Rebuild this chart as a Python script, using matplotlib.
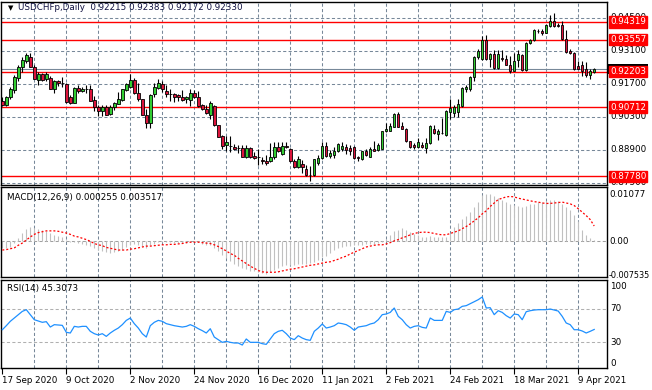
import numpy as np
import matplotlib.pyplot as plt
import matplotlib.transforms as mtransforms
from matplotlib.patches import Rectangle

# USDCHFp daily candles, 17 Sep 2020 .. Apr 2021
opens = [
    .9098, .9081, .9112, .9143, .9194, .9240, .9268, .9282, .9240, .9186,
    .9211, .9189, .9194, .9149, .9183, .9174, .9169, .9115, .9090, .9152,
    .9138, .9149, .9146, .9101, .9073, .9053, .9073, .9042, .9070, .9084,
    .9101, .9143, .9155, .9186, .9132, .9104, .9039, .9002, .9126, .9152,
    .9169, .9140, .9126, .9126, .9121, .9112, .9107, .9101, .9129, .9112,
    .9079, .9064, .9039, .9076, .8994, .8948, .8912, .8906, .8903, .8898,
    .8898, .8861, .8898, .8864, .8861, .8847, .8844, .8844, .8858, .8900,
    .8872, .8906, .8895, .8844, .8816, .8830, .8810, .8784, .8782, .8835,
    .8855, .8906, .8864, .8869, .8884, .8892, .8903, .8898, .8900, .8861,
    .8850, .8884, .8861, .8892, .8889, .8895, .8968, .8971, .8988, .9042,
    .8991, .8979, .8926, .8909, .8900, .8912, .8898, .8917, .8979, .8957,
    .8960, .8954, .9050, .9047, .9050, .9076, .9146, .9146, .9197, .9282,
    .9274, .9355, .9274, .9296, .9237, .9279, .9274, .9248, .9225, .9271,
    .9293, .9228, .9341, .9355, .9395, .9392, .9386, .9415, .9435, .9420,
    .9420, .9361, .9310, .9302, .9245, .9251, .9234, .9206, .92215]
highs = [
    .9112, .9118, .9155, .9206, .9249, .9282, .9299, .9302, .9251, .9220,
    .9217, .9220, .9203, .9186, .9186, .9197, .9172, .9123, .9157, .9163,
    .9157, .9163, .9166, .9118, .9081, .9079, .9081, .9079, .9093, .9135,
    .9149, .9174, .9211, .9194, .9172, .9107, .9064, .9126, .9174, .9191,
    .9180, .9163, .9149, .9132, .9126, .9143, .9118, .9146, .9143, .9140,
    .9084, .9079, .9098, .9079, .8997, .8951, .8948, .8948, .8914, .8912,
    .8909, .8909, .8903, .8881, .8895, .8858, .8869, .8920, .8923, .8923,
    .8923, .8923, .8898, .8852, .8864, .8847, .8824, .8821, .8852, .8867,
    .8923, .8923, .8889, .8900, .8920, .8923, .8914, .8912, .8906, .8864,
    .8886, .8892, .8900, .8928, .8917, .8971, .9002, .9005, .9045, .9050,
    .9008, .8982, .8928, .8920, .8940, .8923, .8940, .8994, .8996, .8979,
    .9025, .9059, .9104, .9079, .9104, .9155, .9163, .9203, .9288, .9319,
    .9372, .9375, .9299, .9313, .9313, .9313, .9291, .9288, .9302, .9313,
    .9296, .9347, .9358, .9401, .9403, .9401, .9423, .9463, .9469, .9429,
    .9437, .9398, .9316, .9305, .9265, .9265, .9262, .9234, .92383]
lows = [
    .9076, .9076, .9107, .9129, .9183, .9220, .9257, .9240, .9189, .9163,
    .9180, .9183, .9146, .9132, .9160, .9157, .9090, .9084, .9087, .9132,
    .9135, .9132, .9095, .9056, .9033, .9033, .9036, .9039, .9059, .9084,
    .9098, .9140, .9152, .9126, .9098, .9036, .8984, .8984, .9115, .9149,
    .9135, .9112, .9095, .9093, .9098, .9095, .9090, .9076, .9109, .9073,
    .9059, .9042, .9022, .8991, .8942, .8892, .8884, .8881, .8889, .8878,
    .8858, .8855, .8855, .8852, .8827, .8830, .8827, .8838, .8852, .8881,
    .8869, .8898, .8838, .8813, .8813, .8793, .8779, .8759, .8779, .8824,
    .8852, .8861, .8855, .8855, .8881, .8886, .8872, .8867, .8852, .8841,
    .8847, .8864, .8858, .8884, .8884, .8892, .8965, .8968, .8985, .8985,
    .8977, .8923, .8898, .8892, .8898, .8898, .8878, .8914, .8957, .8931,
    .8957, .8948, .9022, .9028, .9028, .9073, .9135, .9140, .9183, .9274,
    .9271, .9271, .9240, .9234, .9234, .9268, .9248, .9214, .9223, .9242,
    .9225, .9225, .9338, .9350, .9384, .9378, .9384, .9412, .9412, .9409,
    .9355, .9302, .9296, .9228, .9231, .9203, .9200, .9189, .92172]
closes = [
    .9081, .9112, .9146, .9197, .9242, .9271, .9293, .9242, .9191, .9211,
    .9186, .9211, .9149, .9180, .9172, .9173, .9093, .9087, .9152, .9140,
    .9149, .9148, .9098, .9073, .9056, .9070, .9039, .9073, .9087, .9107,
    .9146, .9169, .9186, .9129, .9107, .9039, .9002, .9123, .9155, .9174,
    .9146, .9126, .9125, .9112, .9115, .9101, .9112, .9129, .9112, .9076,
    .9064, .9047, .9087, .8994, .8945, .8906, .8923, .8905, .8892, .8896,
    .8861, .8898, .8861, .8855, .8858, .8841, .8833, .8861, .8903, .8884,
    .8906, .8900, .8841, .8816, .8850, .8816, .8784, .8782, .8850, .8855,
    .8906, .8864, .8878, .8884, .8914, .8906, .8889, .8884, .8855, .8855,
    .8884, .8867, .8892, .8886, .8909, .8968, .8977, .8991, .9042, .8988,
    .8979, .8926, .8900, .8903, .8923, .8900, .8920, .8991, .8960, .8971,
    .8959, .9056, .9067, .9070, .9084, .9152, .9155, .9197, .9285, .9310,
    .9355, .9274, .9296, .9237, .9296, .9274, .9251, .9223, .9268, .9296,
    .9228, .9344, .9355, .9398, .9392, .9386, .9420, .9435, .9415, .9415,
    .9358, .9305, .9299, .9234, .9234, .9223, .9206, .9225, .92330]

# MACD(12,26,9): main line (histogram) and signal
macd_main = [
    -0.0015, -0.0016, -0.0013, -0.0004, 0.0008, 0.0018, 0.0028, 0.0032, 0.0031, 0.0029,
    0.0027, 0.0023, 0.0019, 0.0015, 0.0013, 0.0010, 0.0004, -0.0001, -0.0002, -0.0004,
    -0.0005, -0.0008, -0.0011, -0.0015, -0.0019, -0.0022, -0.0024, -0.0027, -0.0025, -0.0023,
    -0.0019, -0.0014, -0.0008, -0.0007, -0.0008, -0.0011, -0.0015, -0.0009, -0.0005, -0.0002,
    -0.0002, -0.0002, -0.0002, -0.0003, -0.0003, -0.0004, -0.0003, -0.0001, -0.0001, -0.0002,
    -0.0005, -0.0008, -0.0008, -0.0015, -0.0023, -0.0031, -0.0038, -0.0046, -0.0052, -0.0057,
    -0.0062, -0.0063, -0.0067, -0.0069, -0.0071, -0.0073, -0.0075, -0.0071, -0.0065, -0.0062,
    -0.0057, -0.0054, -0.0054, -0.0054, -0.0053, -0.0051, -0.0051, -0.0050, -0.0047, -0.0042,
    -0.0036, -0.0033, -0.0027, -0.0021, -0.0016, -0.0013, -0.0011, -0.0010, -0.0009, -0.0008,
    -0.0008, -0.0007, -0.0006, -0.0005, -0.0004, -0.0002, 0.0005, 0.0015, 0.0023, 0.0027,
    0.0030, 0.0027, 0.0021, 0.0017, 0.0014, 0.0010, 0.0009, 0.0013, 0.0011, 0.0011,
    0.0009, 0.0011, 0.0019, 0.0034, 0.0041, 0.0051, 0.0057, 0.0067, 0.0079, 0.0091,
    0.0107, 0.0108, 0.0108, 0.0103, 0.0099, 0.0096, 0.0091, 0.0085, 0.0083, 0.0082,
    0.0079, 0.0080, 0.0085, 0.0086, 0.0090, 0.0091, 0.0092, 0.0094, 0.0094, 0.0092,
    0.0086, 0.0079, 0.0071, 0.0060, 0.0046, 0.0027, 0.0015, 0.0007, 0.000255]
macd_signal = [
    -0.0020, -0.0019, -0.0017, -0.0015, -0.0009, -0.0004, 0.0003, 0.0010, 0.0016, 0.0020,
    0.0022, 0.0024, 0.0024, 0.0024, 0.0023, 0.0021, 0.0019, 0.0016, 0.0012, 0.0010,
    0.0007, 0.0004, 0.0000, -0.0005, -0.0008, -0.0010, -0.0014, -0.0016, -0.0018, -0.0020,
    -0.0020, -0.0020, -0.0018, -0.0017, -0.0015, -0.0013, -0.0011, -0.0011, -0.0010, -0.0009,
    -0.0008, -0.0008, -0.0007, -0.0007, -0.0006, -0.0005, -0.0003, -0.0002, -0.0002, -0.0002,
    -0.0003, -0.0004, -0.0005, -0.0008, -0.0012, -0.0017, -0.0022, -0.0028, -0.0032, -0.0039,
    -0.0045, -0.0051, -0.0057, -0.0062, -0.0067, -0.0070, -0.0071, -0.0071, -0.0071, -0.0070,
    -0.0068, -0.0066, -0.0064, -0.0063, -0.0061, -0.0059, -0.0057, -0.0055, -0.0054, -0.0052,
    -0.0050, -0.0048, -0.0047, -0.0044, -0.0041, -0.0037, -0.0034, -0.0029, -0.0025, -0.0021,
    -0.0017, -0.0013, -0.0011, -0.0009, -0.0008, -0.0008, -0.0006, -0.0003, 0.0001, 0.0004,
    0.0008, 0.0011, 0.0015, 0.0018, 0.0020, 0.0021, 0.0021, 0.0020, 0.0018, 0.0016,
    0.0015, 0.0015, 0.0018, 0.0021, 0.0024, 0.0029, 0.0034, 0.0040, 0.0047, 0.0054,
    0.0063, 0.0070, 0.0080, 0.0088, 0.0096, 0.0099, 0.0102, 0.0103, 0.0102, 0.0099,
    0.0097, 0.0095, 0.0093, 0.0091, 0.0090, 0.0088, 0.0087, 0.0087, 0.0088, 0.0089,
    0.0090, 0.0088, 0.0086, 0.0082, 0.0075, 0.0067, 0.0059, 0.0050, 0.003517]

# RSI(14)
rsi = [
    45.0, 49.8, 55.0, 58.9, 62.9, 66.8, 68.8, 62.9, 56.9, 55.3,
    53.8, 54.6, 48.2, 51.0, 50.6, 50.2, 41.9, 41.1, 49.0, 48.2,
    49.0, 49.0, 43.1, 40.3, 38.7, 40.3, 37.1, 41.1, 44.3, 47.0,
    51.0, 56.1, 58.9, 52.2, 47.0, 40.3, 36.3, 49.8, 53.8, 56.1,
    55.0, 52.2, 51.0, 49.8, 49.0, 48.2, 49.0, 51.0, 49.0, 46.2,
    43.9, 41.1, 46.2, 36.3, 33.2, 30.0, 31.2, 30.0, 29.2, 29.2,
    26.8, 34.0, 30.0, 30.0, 30.0, 28.4, 27.6, 34.0, 40.3, 43.1,
    44.3, 40.3, 35.1, 33.2, 37.9, 35.1, 33.2, 32.4, 43.1, 47.0,
    51.8, 47.0, 48.2, 49.8, 53.0, 52.2, 51.0, 48.2, 44.3, 48.2,
    49.0, 49.8, 51.8, 53.0, 56.9, 62.9, 63.7, 65.6, 70.8, 60.9,
    56.9, 51.0, 47.0, 49.0, 49.8, 47.8, 47.0, 58.9, 56.1, 56.1,
    56.1, 66.8, 65.6, 68.8, 69.6, 72.8, 73.6, 75.9, 78.3, 80.7,
    83.9, 70.8, 71.2, 62.9, 67.6, 65.6, 61.7, 58.9, 63.7, 62.9,
    56.9, 66.4, 67.6, 68.4, 68.8, 68.8, 68.8, 69.6, 68.4, 67.2,
    60.9, 53.0, 51.0, 45.0, 45.0, 43.5, 41.1, 43.1, 45.3073]

date_labels = ["17 Sep 2020", "9 Oct 2020", "2 Nov 2020", "24 Nov 2020", "16 Dec 2020",
               "11 Jan 2021", "2 Feb 2021", "24 Feb 2021", "18 Mar 2021", "9 Apr 2021"]
price_grid = [0.945, 0.931, 0.917, 0.903, 0.889, 0.875]
level_lines = [0.94319, 0.93557, 0.92203, 0.90712, 0.87780]
bid = 0.92330
macd_scale = [0.01077, -0.007535]   # window max / min shown on the MACD scale

plt.rcParams['font.family'] = 'DejaVu Sans'
FS = 6.3
GRID = '#778899'
DASH = (0, (3.0, 2.2))

W, H = 652, 390
fig = plt.figure(figsize=(W / 100, H / 100), dpi=100)
fig.patch.set_facecolor('white')

def rect(top, bottom):
    return [1 / W, 1 - bottom / H, 606 / W, (bottom - top) / H]

ax = fig.add_axes(rect(2, 185))
axm = fig.add_axes(rect(187, 277))
axr = fig.add_axes(rect(280, 368))

o = np.array(opens); h = np.array(highs); l = np.array(lows); c = np.array(closes)
x = np.arange(len(c))
vgrid = np.arange(8, len(c), 8)

for a in (ax, axm, axr):
    a.set_xlim(-0.33, 151.2)
    for s in a.spines.values():
        s.set_color('black')
        s.set_linewidth(1.0)
    a.tick_params(left=False, right=False, labelleft=False, bottom=False, labelbottom=False)
    for v in vgrid:
        a.axvline(v, color=GRID, lw=0.75, ls=DASH, zorder=0)

# ---- main price panel
ax.set_ylim(0.87406, 0.95165)
ax.set_yticks([])
for p in price_grid:
    ax.axhline(p, color=GRID, lw=0.75, ls=DASH, zorder=0)
for p in level_lines:
    ax.axhline(p, color='#ff0000', lw=1.0, zorder=1)
ax.axhline(bid, color=GRID, lw=0.8, zorder=1)

up = c >= o
ax.vlines(x, l, h, color='black', lw=0.8, zorder=2)
ax.bar(x[up], (c - o)[up], bottom=o[up], width=0.62, color='#32cd32',
       edgecolor='black', linewidth=0.6, zorder=3)
ax.bar(x[~up], (c - o)[~up], bottom=o[~up], width=0.62, color='#dc143c',
       edgecolor='black', linewidth=0.6, zorder=3)

yax = ('axes fraction', 'data')
for p in price_grid:
    ax.annotate('%.5f' % p, xy=(1, p), xycoords=yax, xytext=(3, 0),
                textcoords='offset pixels', va='center', ha='left', fontsize=FS,
                color='black', annotation_clip=False)

# bid price marker, mostly hidden behind the 0.92203 level box
ybox = mtransforms.blended_transform_factory(ax.transAxes, ax.transData)
ax.add_patch(Rectangle((1.0, bid - 0.0021), 41 / 606, 0.0042, transform=ybox,
                       facecolor='black', edgecolor='none', clip_on=False, zorder=5))
for p in level_lines:
    ax.annotate('%.5f' % p, xy=(1, p), xycoords=yax, xytext=(3, 0),
                textcoords='offset pixels', va='center', ha='left', fontsize=FS,
                color='white', annotation_clip=False, zorder=6,
                bbox=dict(boxstyle='square,pad=0.12', fc='#ff0000', ec='#ff0000'))

ax.text(7 / 606, 1 - 6 / 183, '\u25bc', transform=ax.transAxes, fontsize=5,
        va='center', ha='left', color='black')
ax.text(17 / 606, 1 - 6 / 183,
        'USDCHFp,Daily  %.5f %.5f %.5f %.5f' % (opens[-1], highs[-1], lows[-1], closes[-1]),
        transform=ax.transAxes, fontsize=FS, va='center', ha='left', color='#101040')

# ---- MACD panel
axm.set_ylim(-0.00819, 0.01247)
axm.axhline(0, color='#a0a0a0', lw=0.75, ls=DASH, zorder=0)
axm.vlines(x, 0, macd_main, color='#c0c0c0', lw=0.8, zorder=2)
axm.plot(x, macd_signal, color='#ff0000', lw=0.9, ls=(0, (1.6, 1.6)), zorder=3)
axm.text(6 / 606, 1 - 10 / 90, 'MACD(12,26,9) %.6f %.6f' % (macd_main[-1], macd_signal[-1]),
         transform=axm.transAxes, fontsize=FS, va='center', ha='left', color='black')
for val, lab, fs in [(macd_scale[0], '%.5f' % macd_scale[0], FS), (0, '0.00', FS),
                     (macd_scale[1] - 0.0004, '%.6f' % macd_scale[1], 5.9)]:
    axm.annotate(lab, xy=(1, val), xycoords=yax, xytext=(2, 0), textcoords='offset pixels',
                 va='center', ha='left', fontsize=fs, color='black', annotation_clip=False)

# ---- RSI panel
axr.set_ylim(-0.5, 104.1)
for lv in (70, 30):
    axr.axhline(lv, color='#b0b0b0', lw=0.75, ls=DASH, zorder=0)
axr.plot(x, rsi, color='#1e90ff', lw=0.9, zorder=3)
axr.text(6 / 606, 1 - 9 / 88, 'RSI(14) %.4f' % rsi[-1], transform=axr.transAxes,
         fontsize=FS, va='center', ha='left', color='black')
for val, lab in [(96, '100'), (70, '70'), (30, '30'), (5, '0')]:
    axr.annotate(lab, xy=(1, val), xycoords=yax, xytext=(3, 0), textcoords='offset pixels',
                 va='center', ha='left', fontsize=FS, color='black', annotation_clip=False)

# date axis
tick_idx = np.arange(0, len(c), 16)[:len(date_labels)]
axr.tick_params(bottom=True, labelbottom=True, length=4, width=0.8, direction='out',
                pad=2, labelsize=FS)
axr.set_xticks(tick_idx)
axr.set_xticklabels(date_labels, ha='left')

fig.savefig('out.png', dpi=100, facecolor='white')
